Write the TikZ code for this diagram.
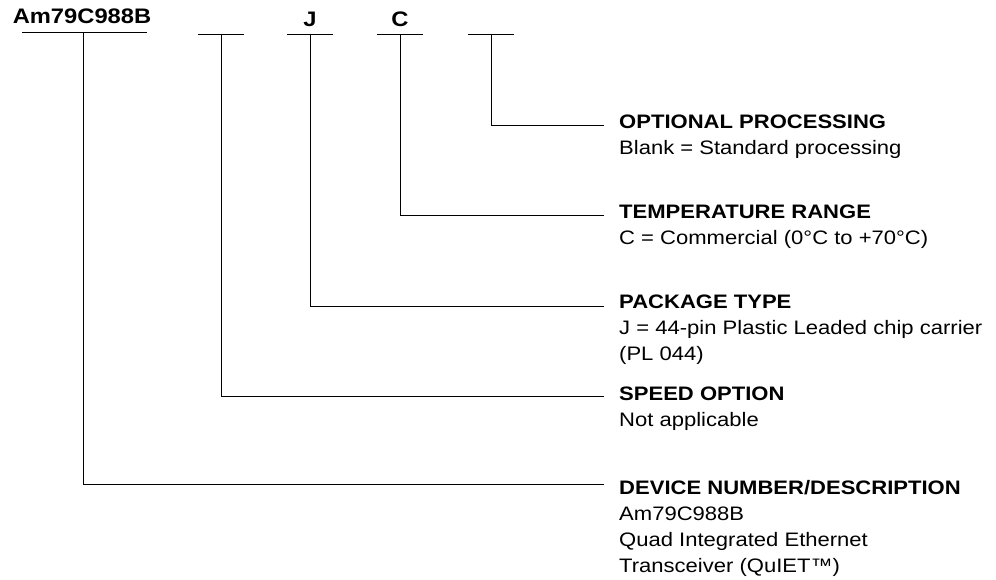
\documentclass[tikz,border=0pt]{standalone}
\usepackage{fontspec}
\setmainfont{Liberation Sans}[FakeStretch=1.13]
\usetikzlibrary{positioning}

\tikzset{
  field/.style={font=\fontsize{21}{26}\selectfont\bfseries, inner sep=0pt, anchor=base},
  entry/.style={font=\fontsize{19.5}{26}\selectfont, align=left, inner sep=0pt, anchor=north west},
  lead/.style={line width=1pt},
}

\begin{document}
\begin{tikzpicture}[x=1pt, y=-1pt]
  \useasboundingbox (0,0) rectangle (996,580);

  % ordering code
  \node[field] (part) at (82,24) {Am79C988B};
  \node[field] (pkg) at (310,27) {J};
  \node[field] (temp) at (400,27) {C};

  \coordinate (devTick) at (83,33);
  \coordinate (speedTick) at (221,35);
  \coordinate (pkgTick) at (310,35);
  \coordinate (tempTick) at (400,35);
  \coordinate (optTick) at (491,35);

  \draw[lead] (22,33) -- (147,33);
  \foreach \t in {speedTick, pkgTick, tempTick, optTick}
    \draw[lead] ([xshift=-23pt]\t) -- ([xshift=23pt]\t);

  % descriptions
  \node[entry] (opt) at (619,115) {\textbf{OPTIONAL PROCESSING}\\Blank = Standard processing};
  \node[entry] (tempText) at (619,205) {\textbf{TEMPERATURE RANGE}\\C = Commercial (0°C to +70°C)};
  \node[entry] (pkgText) at (619,295) {\textbf{PACKAGE TYPE}\\J = 44-pin Plastic Leaded chip carrier\\(PL 044)};
  \node[entry] (speedText) at (619,387) {\textbf{SPEED OPTION}\\Not applicable};
  \node[entry] (devText) at (619,480) {\textbf{DEVICE NUMBER/DESCRIPTION}\\Am79C988B\\Quad Integrated Ethernet\\Transceiver (QuIET™)};

  \coordinate (optEnd) at (604,126);
  \coordinate (tempEnd) at (604,216);
  \coordinate (pkgEnd) at (604,306);
  \coordinate (speedEnd) at (604,396);
  \coordinate (devEnd) at (604,484);

  % leaders
  \draw[lead] (optTick) |- (optEnd);
  \draw[lead] (tempTick) |- (tempEnd);
  \draw[lead] (pkgTick) |- (pkgEnd);
  \draw[lead] (speedTick) |- (speedEnd);
  \draw[lead] (devTick) |- (devEnd);
\end{tikzpicture}
\end{document}
